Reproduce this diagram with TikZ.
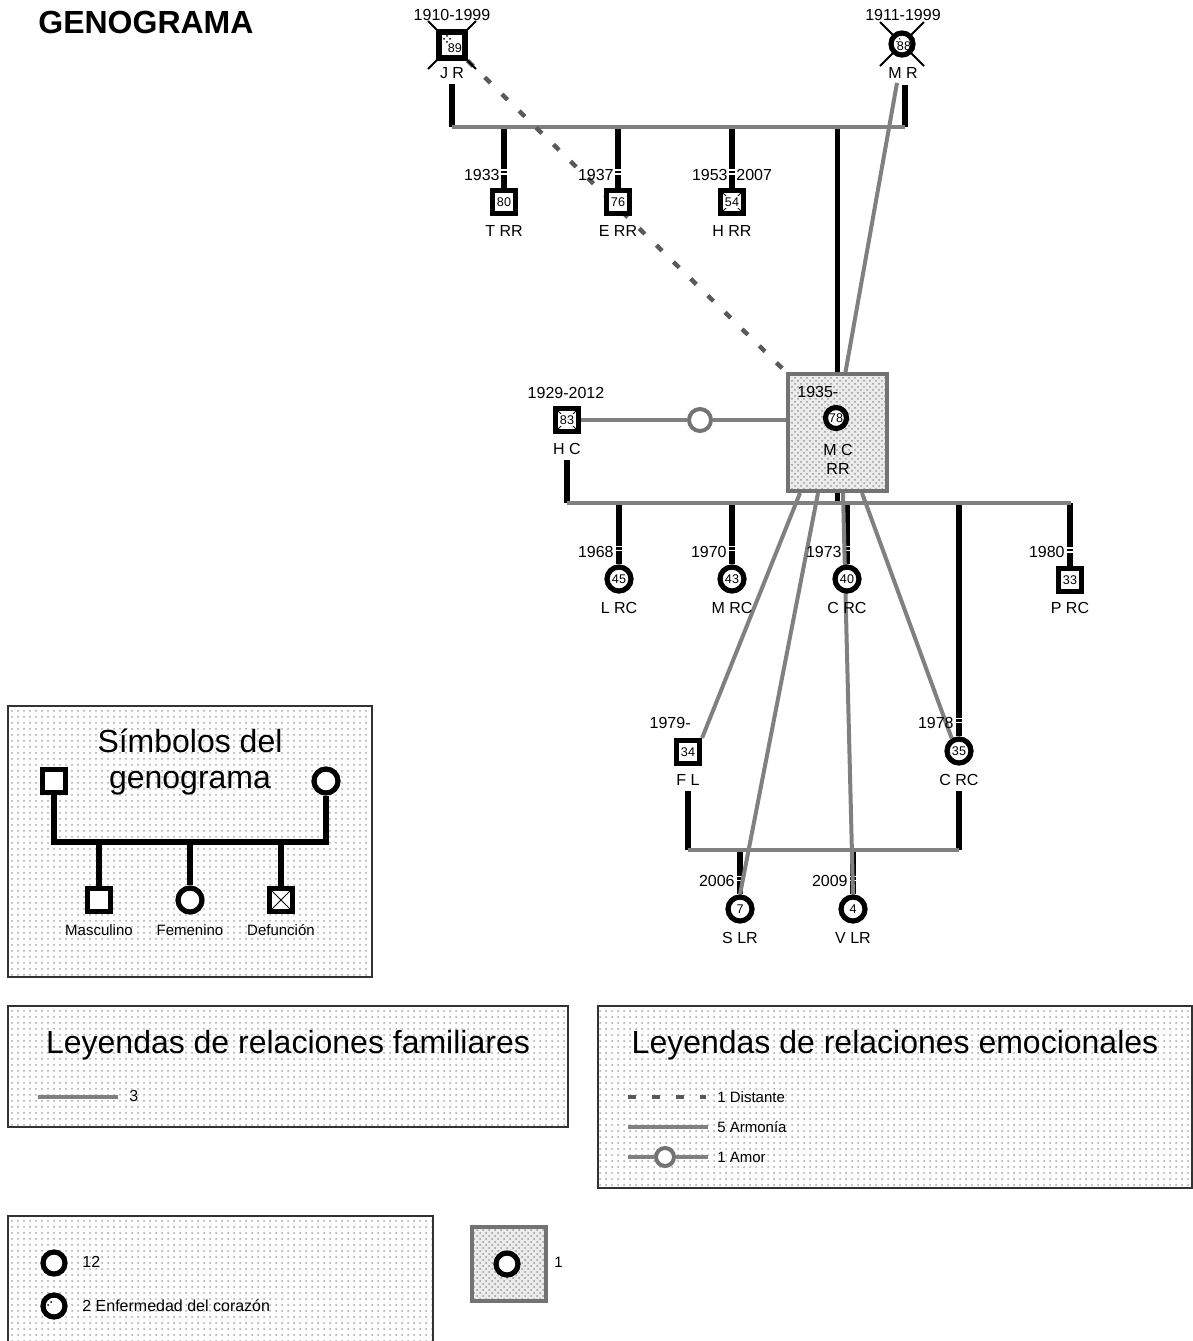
\documentclass[tikz,border=0pt]{standalone}
\usepackage{fontspec}
\setmainfont{Liberation Sans}
\usetikzlibrary{patterns}
\pgfdeclarelayer{bg}
\pgfsetlayers{bg,main}
\newcommand{\agebox}[1]{{\setlength{\fboxsep}{0.6pt}\colorbox{white}{#1}}}
\begin{document}
\begin{tikzpicture}[x=0.5pt,y=-0.5pt,
  sym/.style={draw=black, line width=2.6pt, fill=white, inner sep=0pt, font=\fontsize{6.3}{7}\selectfont},
  male/.style={sym, rectangle, minimum size=11.5pt},
  female/.style={sym, circle, minimum size=12pt},
  deadin/.style={path picture={\draw[line width=0.5pt] (path picture bounding box.north west) -- (path picture bounding box.south east) (path picture bounding box.north east) -- (path picture bounding box.south west);}},
  lbl/.style={inner sep=0pt, font=\fontsize{8}{9}\selectfont},
  famline/.style={draw=black!50, line width=2pt},
  desc/.style={draw=black, line width=2.6pt},
  harm/.style={draw=black!50, line width=2pt},
  dist/.style={draw=black!65, line width=2.2pt, dash pattern=on 4pt off 8pt},
  legbox/.style={draw=black!80, line width=0.6pt, pattern=dots, pattern color=black!35},
  shadebox/.style={draw=black!55, line width=2pt, preaction={fill=black!8}, pattern=crosshatch dots, pattern color=black!40, inner sep=0pt},
  gap/.style={draw=white, line width=0.8pt},
  ltitle/.style={inner sep=0pt, anchor=base, font=\fontsize{16}{18}\selectfont},
  lsmall/.style={inner sep=0pt, font=\fontsize{7.5}{9}\selectfont},
  heart/.style={pattern=crosshatch dots, pattern color=black},
  xmark/.style={draw=black, line width=0.9pt},
]
\useasboundingbox (0,0) rectangle (1193,1341);

% ---------- title
\node[anchor=west, inner sep=0pt, font=\bfseries\fontsize{16}{18}\selectfont] (title) at (38,22) {GENOGRAMA};

% ---------- legend boxes
\draw[legbox] (8,706) rectangle (372,977);
\draw[legbox] (8,1006) rectangle (568,1127);
\draw[legbox] (598,1006) rectangle (1192,1188);
\draw[legbox] (8,1216) rectangle (433,1360);

% ---------- generation 1
\coordinate (jrpos) at (452,45);
\draw[xmark] (jrpos) ++(-24,-24) -- ++(48,48);
\draw[xmark] (jrpos) ++(24,-24) -- ++(-48,48);
\node[male, minimum size=13pt] (JR) at (jrpos) {};
\fill[heart] (JR.north west) ++(6,6) rectangle ++(9,8);
\node[inner sep=0pt, font=\fontsize{6.3}{7}\selectfont] (JRage) at (455,48) {89};
\node[lbl] (JRd) at (452,15) {1910-1999};
\node[lbl] (JRn) at (452,73) {J R};

\coordinate (mrpos) at (902,44);
\draw[xmark] (mrpos) ++(-22,-22) -- ++(44,44);
\draw[xmark] (mrpos) ++(22,-22) -- ++(-44,44);
\node[female, minimum size=11pt] (MR) at (mrpos) {};
\fill[heart] (MR.center) ++(-10,-9) rectangle ++(8,6);
\node[inner sep=0pt, font=\fontsize{6.3}{7}\selectfont] (MRage) at (904,46) {88};
\node[lbl] (MRd) at (903,15) {1911-1999};
\node[lbl] (MRn) at (903,73) {M R};

\coordinate (f1L) at (452,127);
\coordinate (f1R) at (905,127);

% ---------- generation 2 (children of JR and MR)
\node[male] (TRR) at (504,202) {80};
\node[lbl] (TRRn) at (504,231) {T RR};
\node[lbl, anchor=east] (TRRd) at (500,175) {1933};
\node[male] (ERR) at (618,202) {76};
\node[lbl] (ERRn) at (618,231) {E RR};
\node[lbl, anchor=east] (ERRd) at (614,175) {1937};
\node[male, deadin] (HRR) at (732,202) {\agebox{54}};
\node[lbl] (HRRn) at (732,231) {H RR};
\node[lbl, anchor=east] (HRRd) at (728,175) {1953};
\node[lbl, anchor=west] (HRRd2) at (736,175) {2007};

% ---------- MC RR (index person)
\node[shadebox, minimum width=49.5pt, minimum height=58.5pt] (MCbox) at (837.5,432.5) {};
\node[lbl, anchor=west] (MCd) at (797,392) {1935-};
\node[female, minimum size=10.5pt] (MC) at (836,418) {78};
\node[lbl] (MCn) at (838,450) {M C};
\node[lbl] (MCn2) at (838,469) {RR};

\node[male, deadin] (HC) at (567,420) {\agebox{83}};
\node[lbl] (HCd) at (566,393) {1929-2012};
\node[lbl] (HCn) at (567,449) {H C};
\node[circle, draw=black!55, line width=2pt, fill=white, minimum size=11pt, inner sep=0pt] (amor) at (700,420) {};

\coordinate (f2L) at (567,503);
\coordinate (f2R) at (1071,503);

% ---------- generation 3
\node[female] (LRC) at (619,579) {45};
\node[lbl] (LRCn) at (619,608) {L RC};
\node[lbl, anchor=east] (LRCd) at (614,552) {1968};
\node[female] (MRC) at (732,579) {43};
\node[lbl] (MRCn) at (732,608) {M RC};
\node[lbl, anchor=east] (MRCd) at (727,552) {1970};
\node[female] (CRA) at (847,579) {40};
\node[lbl] (CRAn) at (847,608) {C RC};
\node[lbl, anchor=east] (CRAd) at (842,552) {1973};
\node[male] (PRC) at (1070,580) {33};
\node[lbl] (PRCn) at (1070,608) {P RC};
\node[lbl, anchor=east] (PRCd) at (1065,552) {1980};
\node[female] (CRB) at (959,751) {35};
\node[lbl] (CRBn) at (959,780) {C RC};
\node[lbl, anchor=east] (CRBd) at (954,723) {1978};
\node[male] (FL) at (688,752) {34};
\node[lbl] (FLn) at (688,780) {F L};
\node[lbl, anchor=east] (FLd) at (691,723) {1979-};

\coordinate (f3L) at (688,850);
\coordinate (f3R) at (959,850);

% ---------- generation 4
\node[female] (SLR) at (740,909) {7};
\node[lbl] (SLRn) at (740,938) {S LR};
\node[lbl, anchor=east] (SLRd) at (735,881) {2006};
\node[female] (VLR) at (853,909) {4};
\node[lbl] (VLRn) at (853,938) {V LR};
\node[lbl, anchor=east] (VLRd) at (848,881) {2009};

% ---------- relation lines (under the symbols)
\begin{pgfonlayer}{bg}
  % descent lines
  \draw[desc] (JRn.south) ++(0,5) -- (f1L);
  \draw[desc] (MRn.south) ++(2,6) -- (f1R);
  \draw[desc] (TRR.north |- f1L) -- (TRR.north);
  \draw[desc] (ERR.north |- f1L) -- (ERR.north);
  \draw[desc] (HRR.north |- f1L) -- (HRR.north);
  \draw[desc] (MCbox.north |- f1L) -- (MCbox.north);
  \draw[desc] (HCn.south) ++(0,5) -- (f2L);
  \draw[desc] (MCbox.south) -- (MCbox.south |- f2L);
  \draw[desc] (LRC.north |- f2L) -- (LRC.north);
  \draw[desc] (MRC.north |- f2L) -- (MRC.north);
  \draw[desc] (CRA.north |- f2L) -- (CRA.north);
  \draw[desc] (PRC.north |- f2L) -- (PRC.north);
  \draw[desc] (CRB.north |- f2L) -- (CRB.north);
  \draw[desc] (FLn.south) ++(0,5) -- (f3L);
  \draw[desc] (CRBn.south) ++(0,5) -- (f3R);
  \draw[desc] (SLR.north |- f3L) -- (SLR.north);
  \draw[desc] (VLR.north |- f3L) -- (VLR.north);
  % family lines
  \draw[famline] (f1L) -- (f1R);
  \draw[famline] (f2L) -- (f2R);
  \draw[famline] (f3L) -- (f3R);
  % gaps at the dates
  \foreach \n in {TRR,ERR,HRR,LRC,MRC,CRA,PRC,CRB,SLR,VLR}{
    \draw[gap] (\n.north) ++(-3,-14) -- ++(6,0);
    \draw[gap] (\n.north) ++(-3,-18) -- ++(6,0);
  }
  % emotional lines
  \draw[harm] (HC) -- (amor);
  \draw[harm] (amor) -- (MCbox.west |- amor.center);
  \draw[harm] ([xshift=-3pt,yshift=-2pt]MRn.south) -- ([xshift=4pt]MCbox.north);
  \draw[harm] ([xshift=-18.75pt]MCbox.south) -- (FL.north east);
  \draw[harm] ([xshift=-9.75pt]MCbox.south) -- (SLR.north);
  \draw[harm] ([xshift=2.75pt]MCbox.south) -- (VLR.north);
  \draw[harm] ([xshift=12.25pt]MCbox.south) -- (CRB.120);
  \draw[dist] (JR.south east) -- (MCbox.north west);
\end{pgfonlayer}

% ---------- legend 1: symbols
\node[ltitle] (lt1) at (190,752) {Símbolos del};
\node[ltitle] (lt1b) at (190,788) {genograma};
\node[male] (lgM) at (54,781) {};
\node[female] (lgF) at (326,781) {};
\coordinate (lgL) at (54,842);
\coordinate (lgR) at (326,842);
\node[male] (lgc1) at (99,900) {};
\node[female] (lgc2) at (190,900) {};
\node[male, deadin] (lgc3) at (281,900) {};
\draw[desc, line join=miter] (lgM.south) -- (lgL) -- (lgR) -- (lgF.south);
\draw[desc] (lgc1.north |- lgL) -- (lgc1.north);
\draw[desc] (lgc2.north |- lgL) -- (lgc2.north);
\draw[desc] (lgc3.north |- lgL) -- (lgc3.north);
\node[lsmall] (lgt1) at (99,930) {Masculino};
\node[lsmall] (lgt2) at (190,930) {Femenino};
\node[lsmall] (lgt3) at (281,930) {Defunción};

% ---------- legend 2: family relations
\node[ltitle] (lt2) at (288,1053) {Leyendas de relaciones familiares};
\coordinate (lf1) at (38,1097);
\coordinate (lf2) at (118,1097);
\draw[famline] (lf1) -- (lf2);
\node[lbl, anchor=west] (lf3) at (129,1096) {3};

% ---------- legend 3: emotional relations
\node[ltitle] (lt3) at (895,1053) {Leyendas de relaciones emocionales};
\coordinate (le1a) at (628,1097);
\coordinate (le1b) at (706,1097);
\draw[dist] (le1a) -- (le1b);
\node[lsmall, anchor=west] (le1t) at (717,1097) {1 Distante};
\coordinate (le2a) at (628,1127);
\coordinate (le2b) at (708,1127);
\draw[harm] (le2a) -- (le2b);
\node[lsmall, anchor=west] (le2t) at (717,1127) {5 Armonía};
\coordinate (le3a) at (628,1157);
\coordinate (le3b) at (708,1157);
\node[circle, draw=black!55, line width=2pt, fill=white, minimum size=9pt, inner sep=0pt] (le3c) at (665,1157) {};
\draw[harm] (le3a) -- (le3c);
\draw[harm] (le3c) -- (le3b);
\node[lsmall, anchor=west] (le3t) at (717,1157) {1 Amor};

% ---------- legend 4
\node[female, minimum size=11pt] (lg12) at (54,1263) {};
\node[lsmall, anchor=west, font=\fontsize{8}{9}\selectfont] (lg12t) at (82,1262) {12};
\node[female, minimum size=11pt] (lgH) at (54,1306) {};
\fill[heart] (lgH.center) ++(-11,-10) rectangle ++(10,9);
\node[lsmall, anchor=west, font=\fontsize{8}{9}\selectfont] (lgHt) at (82,1306) {2 Enfermedad del corazón};
\node[shadebox, minimum size=37pt] (lgbox) at (508.5,1264) {};
\node[female, minimum size=11pt] (lgbc) at (507,1264) {};
\node[lsmall, anchor=west] (lgbt) at (554,1262) {1};
\end{tikzpicture}
\end{document}
